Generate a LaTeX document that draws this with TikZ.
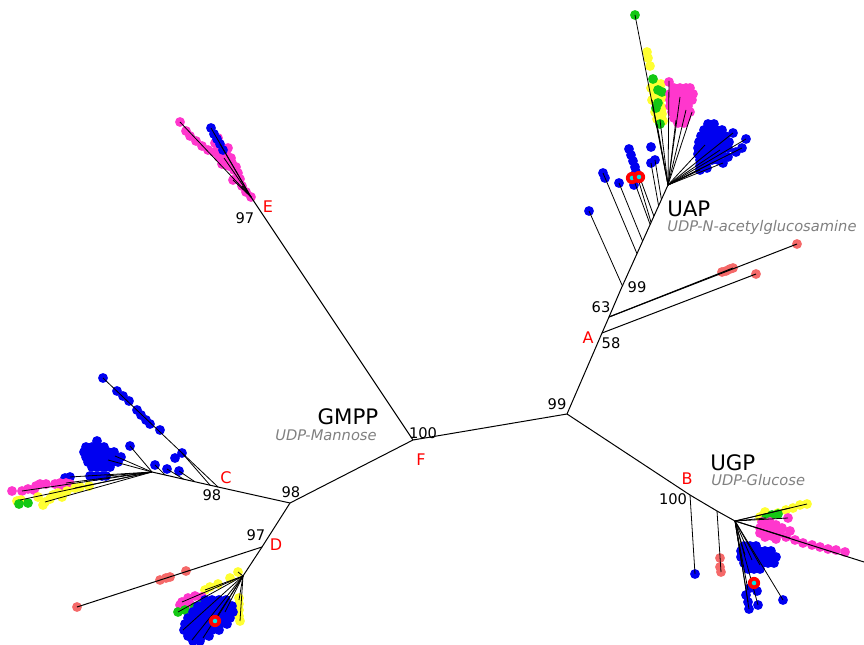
\documentclass[tikz,border=0pt]{standalone}
\usepackage{fontspec}
\setmainfont{DejaVu Sans}
\usetikzlibrary{calc}
\definecolor{cb}{RGB}{0,0,240}
\definecolor{cp}{RGB}{255,55,205}
\definecolor{cy}{RGB}{255,255,50}
\definecolor{cg}{RGB}{20,200,20}
\definecolor{cs}{RGB}{245,105,105}
\definecolor{cgray}{RGB}{128,128,128}
\definecolor{ccyan}{RGB}{0,230,230}
\newcommand\mydots[2]{\foreach \p in {#2} \fill[#1] \p circle (3.7pt);}
\newcommand\myrow[3]{\foreach \xx in {#3} \fill[#1] (\xx,#2) circle (3.7pt);}
\newcommand\myfan[2]{\foreach \p in {#2} \draw[tw] (#1) -- \p;}
\newcommand\myring[1]{\fill[red] #1 circle (4.6pt); \fill[ccyan] #1 circle (1.7pt);}
\begin{document}
\begin{tikzpicture}[x=0.75pt,y=-0.75pt,
  br/.style={line width=0.75pt,black},
  tw/.style={line width=0.6pt,black},
  boot/.style={font=\fontsize{11pt}{12pt}\selectfont,inner sep=0pt},
  lett/.style={font=\fontsize{12pt}{13pt}\selectfont,text=red,inner sep=0pt},
  fam/.style={font=\fontsize{16pt}{18pt}\selectfont,inner sep=0pt,anchor=west},
  sub/.style={font=\fontsize{11pt}{13pt}\selectfont\itshape,text=cgray,inner sep=0pt,anchor=west}]
\useasboundingbox (0,0) rectangle (864,645);
% ---------- internal nodes ----------
\coordinate (F) at (413,440);
\coordinate (R) at (567,414);
\coordinate (G) at (290,503);
\coordinate (E) at (251,197);
\coordinate (C) at (218,487);
\coordinate (Cn) at (152,472);
\coordinate (D) at (262,547);
\coordinate (Dn) at (243,576);
\coordinate (A) at (602,333);
\coordinate (A63) at (609,317);
\coordinate (A99) at (621,289);
\coordinate (U) at (668,185);
\coordinate (B) at (690,495);
\coordinate (B2) at (717,511);
\coordinate (K) at (735,521);
\coordinate (Kend) at (864,562);
\coordinate (Sa) at (797,244);
\coordinate (Sb) at (756,274);
\coordinate (Sd) at (77,607);
% ---------- leaf dots ----------
% E cluster
\mydots{cp}{(180,122),(186,131),(190,136),(196,141),(202,146),(208,150),(214,152),(220,150),(226,153),(219,157),(225,160),(231,158),(222,164),(229,166),(234,170),(238,173),(233,180),(240,179),(242,186),(246,192),(251,197),(215,143),(218,138),(228,148),(232,163),(236,167)}
\mydots{cb}{(211,128),(214,134),(217,139),(220,144),(223,150)}
% UAP cluster
\mydots{cg}{(635,15)}
\mydots{cy}{(647,52),(648,58),(650,66)}
\mydots{cy}{(655,83),(661,84),(651,88),(658,95),(664,97),(652,100),(660,105),(655,112),(662,114),(657,119),(663,121),(654,93),(662,108)}
\mydots{cg}{(653,79),(658,90),(662,92),(658,103),(660,124),(656,108)}
\myrow{cp}{82}{669}
\myrow{cp}{88}{674,680,686,690}
\myrow{cp}{94}{670,676,682,688,693}
\myrow{cp}{100}{670,676,682,688,692}
\myrow{cp}{106}{670,676,682,688}
\myrow{cp}{112}{672,678,684,690}
\myrow{cp}{118}{674,680,686}
\myrow{cp}{123}{678,684}
\myrow{cb}{124}{708,714}
\myrow{cb}{130}{704,710,716,722}
\myrow{cb}{136}{701,707,713,719,725}
\myrow{cb}{142}{699,705,711,717,723,729}
\myrow{cb}{148}{698,704,710,716,722,728}
\myrow{cb}{154}{698,704,710,716,722}
\myrow{cb}{160}{700,706,712,718}
\myrow{cb}{166}{700,706}
\mydots{cb}{(733,133),(746,139),(742,148),(723,163),(700,170),(707,168),(736,152),(728,157)}
\mydots{cb}{(589,211),(603,173),(605,178),(619,183),(629,149),(631,155),(633,161),(635,167),(636,172),(651,147),(651,163),(655,160),(634,185)}
% salmon A
\mydots{cs}{(Sb),(Sa),(722,272),(726,271),(730,269),(733,268)}
% UGP cluster
\mydots{cb}{(695,574)}
\mydots{cs}{(720,558),(720,567),(721,572)}
\mydots{cy}{(807,504),(800,505),(793,508),(786,510),(778,513),(768,515),(760,517),(765,512)}
\mydots{cg}{(766,518),(772,515),(778,514)}
\mydots{cp}{(762,522),(768,527),(774,530),(780,533),(765,532),(772,536),(788,518),(786,537),(795,540),(803,543),(812,545),(820,547),(828,549),(836,550),(845,552),(760,528),(776,525),(770,522),(782,528),(790,531),(765,537),(776,539),(760,533)}
\myrow{cb}{546}{744,750,756}
\myrow{cb}{551}{741,747,753,759,765,771}
\myrow{cb}{557}{741,747,753,759,765,771,776}
\myrow{cb}{563}{744,750,756,762,768,774}
\myrow{cb}{569}{748,754,760}
\mydots{cb}{(750,588),(757,591),(748,602),(749,609),(758,605),(783,600),(746,595)}
% C cluster
\mydots{cb}{(103,378),(117,391),(123,396),(129,401),(137,410),(141,415),(146,420),(150,424),(160,430),(182,453),(175,458),(167,469),(179,471),(155,465),(130,446)}
\myrow{cb}{441}{97}
\myrow{cb}{447}{86,92,98,104}
\myrow{cb}{452}{84,90,96,102,108,114}
\myrow{cb}{457}{86,92,98,104,110,116,121}
\myrow{cb}{462}{88,94,100,106,112,118}
\myrow{cb}{467}{92,98,104,110}
\mydots{cb}{(65,478),(70,477),(90,476),(96,476),(102,476),(106,476)}
\mydots{cp}{(12,491),(22,491),(28,489),(36,486),(40,484),(46,484),(55,484),(60,483),(66,483),(70,484),(34,490),(62,488)}
\mydots{cy}{(17,501),(21,500),(38,497),(45,502),(53,495),(58,493),(67,491),(75,488),(80,487),(89,486),(43,505),(50,499),(62,497)}
\mydots{cg}{(19,504),(28,503)}
% D cluster
\mydots{cs}{(Sd),(160,580),(166,578),(170,577),(186,571)}
\mydots{cy}{(238,572),(230,578),(218,584),(210,587),(205,590),(239,598),(239,604),(239,610),(239,616),(240,621)}
\mydots{cp}{(182,602),(188,598),(195,596),(202,597),(190,604),(180,605)}
\mydots{cg}{(178,612),(185,610),(195,607),(203,603)}
\myrow{cb}{600}{205,212,219,226}
\myrow{cb}{606}{198,205,212,219,226,232}
\myrow{cb}{612}{193,200,207,214,221,228,233}
\myrow{cb}{618}{188,195,202,209,216,223,230}
\myrow{cb}{624}{185,192,199,206,213,220,227}
\myrow{cb}{630}{184,191,198,205,212,219}
\myrow{cb}{636}{188,195,202,209}
\myrow{cb}{641}{193,200}
% ---------- main tree ----------
\draw[br] (F) -- (R);
\draw[br] (F) -- (G);
\draw[br] (F) -- (E);
\draw[br] (G) -- (C) -- (Cn);
\draw[br] (G) -- (D) -- (Dn);
\draw[br] (R) -- (A) -- (A63) -- (A99) -- (U);
\draw[br] (R) -- (B) -- (B2) -- (K) -- (Kend);
\draw[br] (A) -- (Sb);
\draw[br] (A63) -- (Sa);
\draw[br] (A63) -- (733,268);
\draw[br] (D) -- (Sd);
% ---------- fans ----------
\myfan{E}{(180,122),(211,128),(220,144),(233,180),(242,186),(224,158)}
\myfan{U}{(635,15),(652,100),(660,120),(657,124),(669,81),(680,97),(686,110),(692,112),(676,120),(733,133),(746,139),(742,148),(723,163),(710,164),(700,170),(720,150),(705,145)}
\draw[tw] ($(A99)!0.03!(U)$) -- (589,211);
\draw[tw] ($(A99)!0.34!(U)$) -- (603,173);
\draw[tw] ($(A99)!0.46!(U)$) -- (619,183);
\draw[tw] ($(A99)!0.62!(U)$) -- (633,178);
\draw[tw] ($(A99)!0.64!(U)$) -- (636,172);
\draw[tw] ($(A99)!0.70!(U)$) -- (640,178);
\draw[tw] ($(A99)!0.80!(U)$) -- (651,163);
\draw[tw] ($(A99)!0.86!(U)$) -- (655,160);
\draw[tw] (B) -- (695,574);
\draw[tw] (B2) -- (721,572);
\myfan{K}{(807,504),(790,508),(766,518),(788,518),(790,538),(748,590),(748,602),(749,609),(758,605),(783,600),(745,555),(752,560),(760,565),(742,565)}
\draw[tw] (C) -- (103,378);
\draw[tw] ($(C)!0.12!(Cn)$) -- (182,453);
\draw[tw] ($(C)!0.35!(Cn)$) -- (179,471);
\draw[tw] ($(C)!0.52!(Cn)$) -- (167,469);
\draw[tw] ($(C)!0.8!(Cn)$) -- (155,465);
\myfan{Cn}{(130,446),(115,456),(108,460),(106,476),(70,477),(66,483),(22,491),(45,502),(75,488),(20,500)}
\myfan{Dn}{(238,572),(205,590),(240,621),(239,600),(182,602),(178,612),(192,640),(183,630),(203,638),(215,621),(225,612)}
% ---------- highlighted leaves ----------
\myring{(632,178)}
\myring{(639,177)}
\myring{(754,583)}
\myring{(215,621)}
% ---------- labels ----------
\node[boot] (l97e) at (245,218) {97};
\node[lett] (lE) at (268,207) {E};
\node[boot] (l99a) at (637,287) {99};
\node[boot] (l63) at (601,307) {63};
\node[lett] (lA) at (588,338) {A};
\node[boot] (l58) at (611,343) {58};
\node[boot] (l99r) at (557,404) {99};
\node[boot] (l100f) at (423,433) {100};
\node[lett] (lF) at (421,460) {F};
\node[boot] (l98g) at (291,492) {98};
\node[lett] (lC) at (226,478) {C};
\node[boot] (l98c) at (212,495) {98};
\node[boot] (l97d) at (256,535) {97};
\node[lett] (lD) at (276,545) {D};
\node[lett] (lB) at (687,479) {B};
\node[boot] (l100b) at (673,499) {100};
\node[fam] (tUAP) at (667,209) {UAP};
\node[sub] (sUAP) at (667,227) {UDP-N-acetylglucosamine};
\node[fam] (tUGP) at (710,463) {UGP};
\node[sub] (sUGP) at (711,480) {UDP-Glucose};
\node[fam,anchor=center] (tGMPP) at (348,417) {GMPP};
\node[sub,anchor=center] (sGMPP) at (326,435) {UDP-Mannose};
\end{tikzpicture}
\end{document}
